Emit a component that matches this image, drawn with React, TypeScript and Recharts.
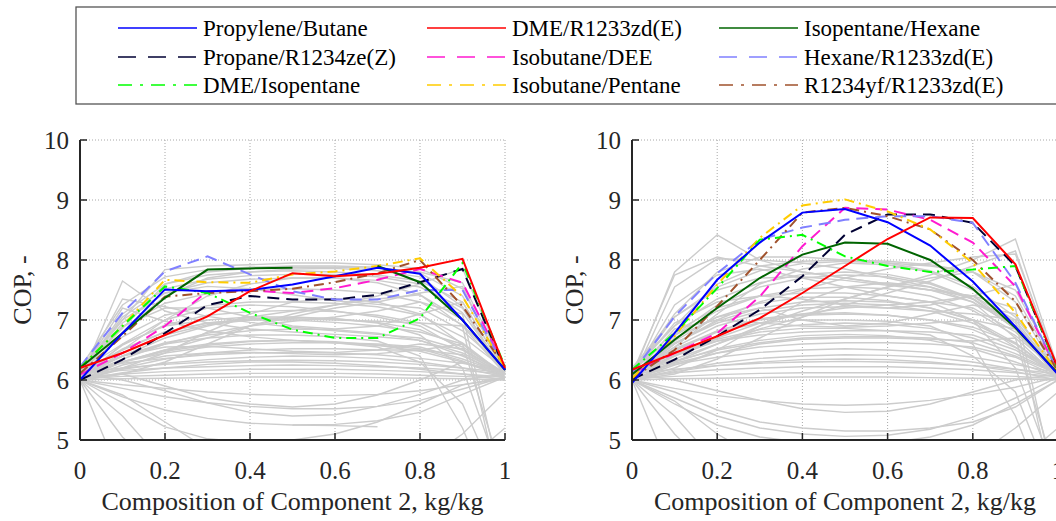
import React from "react";
import { LineChart, Line, XAxis, YAxis, CartesianGrid } from "recharts";

// composition of component 2 (kg/kg), one point every 0.1
const composition = [0, 0.1, 0.2, 0.3, 0.4, 0.5, 0.6, 0.7, 0.8, 0.9, 1];
const xTicks = [0, 0.2, 0.4, 0.6, 0.8, 1];
const yTicks = [5, 6, 7, 8, 9, 10];

// legend order (row by row, 3 columns)
const mixtures = [
  "Propylene/Butane",
  "DME/R1233zd(E)",
  "Isopentane/Hexane",
  "Propane/R1234ze(Z)",
  "Isobutane/DEE",
  "Hexane/R1233zd(E)",
  "DME/Isopentane",
  "Isobutane/Pentane",
  "R1234yf/R1233zd(E)",
];

// ---- left panel, highlighted mixtures ----
const leftPropyleneButane = [6.0, 6.78, 7.51, 7.48, 7.5, 7.59, 7.73, 7.87, 7.77, 7.0, 6.17];
const leftDmeR1233zd = [6.2, 6.45, 6.75, 7.06, 7.48, 7.78, 7.73, 7.77, 7.87, 8.02, 6.2];
const leftIsopentaneHexane = [6.2, 6.78, 7.37, 7.84, 7.86, 7.87, null, 7.9, 7.63, 7.0, 6.17];
const leftPropaneR1234ze = [6.0, 6.34, 6.78, 7.25, 7.4, 7.34, 7.34, 7.42, 7.63, 7.85, 6.17];
const leftIsobutaneDee = [6.09, 6.45, 6.9, 7.48, 7.49, 7.45, 7.53, 7.67, 7.85, 7.62, 6.22];
const leftHexaneR1233zd = [6.22, 7.12, 7.81, 8.06, 7.76, 7.48, 7.34, 7.34, 7.5, 7.5, 6.2];
const leftDmeIsopentane = [6.2, 6.9, 7.56, 7.45, 7.12, 6.84, 6.7, 6.7, 7.03, 7.95, 6.22];
const leftIsobutanePentane = [6.2, 6.9, 7.67, 7.63, 7.62, 7.76, 7.81, 7.9, 8.03, 7.39, 6.2];
const leftR1234yfR1233zd = [6.11, 6.73, 7.39, 7.45, 7.48, 7.52, 7.63, 7.78, 8.0, 7.23, 6.22];

// ---- right panel, highlighted mixtures ----
const rightPropyleneButane = [5.95, 6.78, 7.67, 8.29, 8.79, 8.85, 8.63, 8.24, 7.64, 6.89, 6.09];
const rightDmeR1233zd = [6.17, 6.45, 6.73, 7.03, 7.45, 7.9, 8.35, 8.71, 8.7, 7.93, 6.2];
const rightIsopentaneHexane = [6.09, 6.67, 7.2, 7.7, 8.09, 8.29, 8.27, 8.0, 7.52, 6.87, 6.11];
const rightPropaneR1234ze = [6.01, 6.34, 6.73, 7.17, 7.73, 8.42, 8.76, 8.76, 8.62, 7.9, 6.17];
const rightIsobutaneDee = [6.11, 6.45, 6.78, 7.39, 8.23, 8.87, 8.84, 8.67, 8.29, 7.56, 6.14];
const rightHexaneR1233zd = [6.11, 7.06, 7.78, 8.34, 8.54, 8.67, 8.73, 8.73, 8.62, 7.62, 6.14];
const rightDmeIsopentane = [6.17, 6.78, 7.53, 8.34, 8.42, 8.06, 7.9, 7.8, 7.84, 7.9, 6.17];
const rightIsobutanePentane = [6.03, 6.73, 7.59, 8.37, 8.91, 9.01, 8.81, 8.51, 7.95, 7.12, 6.11];
const rightR1234yfR1233zd = [6.03, 6.5, 7.23, 8.0, 8.79, 8.87, 8.73, 8.51, 8.0, 7.31, 6.14];

// ---- all other mixtures (grey background) ----
const leftOtherMixtures = [
  [6.0, 6.02, 6.03, 6.04, 6.05, 6.05, 6.05, 6.04, 6.03, 6.02, 6.0],
  [6.02, 6.06, 6.08, 6.1, 6.11, 6.11, 6.11, 6.1, 6.08, 6.06, 6.02],
  [6.05, 6.1, 6.14, 6.16, 6.18, 6.18, 6.18, 6.16, 6.14, 6.1, 6.05],
  [6.1, 6.16, 6.2, 6.22, 6.24, 6.25, 6.24, 6.22, 6.2, 6.16, 6.1],
  [6.12, 6.2, 6.26, 6.3, 6.32, 6.33, 6.32, 6.3, 6.26, 6.2, 6.12],
  [6.0, 6.18, 6.28, 6.34, 6.38, 6.4, 6.39, 6.36, 6.3, 6.2, 6.05],
  [6.15, 6.28, 6.36, 6.42, 6.45, 6.46, 6.45, 6.42, 6.36, 6.28, 6.15],
  [6.0, 6.3, 6.48, 6.58, 6.64, 6.66, 6.64, 6.58, 6.48, 6.3, 6.05],
  [6.08, 6.4, 6.62, 6.75, 6.82, 6.85, 6.84, 6.78, 6.66, 6.45, 6.1],
  [6.1, 6.52, 6.8, 6.95, 7.02, 7.04, 7.02, 6.96, 6.84, 6.55, 6.12],
  [6.05, 6.58, 6.92, 7.08, 7.14, 7.16, 7.14, 7.08, 6.95, 6.62, 6.08],
  [6.15, 6.72, 7.08, 7.24, 7.3, 7.3, 7.28, 7.22, 7.08, 6.72, 6.18],
  [6.2, 6.88, 7.28, 7.44, 7.5, 7.52, 7.5, 7.45, 7.3, 6.92, 6.2],
  [6.1, 7.05, 7.52, 7.68, 7.74, 7.76, 7.76, 7.72, 7.6, 7.12, 6.15],
  [6.2, 7.25, 7.72, 7.84, 7.88, 7.9, 7.9, 7.88, 7.78, 7.4, 6.2],
  [6.0, 7.65, 7.15, 6.95, 6.85, 6.8, 6.76, 6.72, 6.66, 6.4, 6.1],
  [6.05, 7.35, 7.22, 7.06, 6.96, 6.88, 6.82, 6.76, 6.7, 6.5, 6.1],
  [6.1, 7.2, 6.98, 6.82, 6.72, 6.66, 6.62, 6.58, 6.52, 6.32, 6.05],
  [6.0, 5.86, 5.72, 5.62, 5.56, 5.52, 5.52, 5.56, 5.66, 5.85, 6.05],
  [6.0, 5.72, 5.5, 5.36, 5.28, 5.25, 5.26, 5.32, 5.46, 5.76, 6.05],
  [6.0, 5.92, 5.86, 5.8, 5.76, 5.74, 5.74, 5.76, 5.82, 5.92, 6.02],
  [6.0, 5.4, 4.6, 4.2, 4.0, 3.9, 3.9, 3.95, 4.1, 4.4, 5.0],
  [6.0, 5.05, 4.4, 4.1, 3.95, 3.9, 3.92, 4.0, 4.2, 4.6, 5.2],
  [6.0, 5.75, 5.3, 4.85, 4.55, 4.4, 4.35, 4.4, 4.6, 5.1, 5.8],
  [6.1, 6.4, 6.6, 6.7, 6.75, 6.75, 6.72, 6.65, 6.4, 5.2, 3.5],
  [6.05, 6.3, 6.5, 6.6, 6.65, 6.66, 6.62, 6.55, 6.3, 5.6, 4.0],
  [6.15, 6.6, 6.9, 7.0, 7.05, 7.05, 7.02, 6.95, 6.75, 6.2, 4.2],
  [6.0, 6.2, 6.45, 6.8, 7.1, 7.3, 7.36, 7.3, 7.1, 6.6, 6.05],
  [6.1, 6.5, 7.0, 7.4, 7.6, 7.7, 7.7, 7.62, 7.42, 6.9, 6.1],
  [6.05, 6.8, 7.4, 7.7, 7.8, 7.85, 7.86, 7.82, 7.72, 7.22, 6.1],
  [6.0, 6.1, 6.3, 6.6, 6.9, 7.1, 7.25, 7.35, 7.42, 7.0, 6.1],
  [6.2, 7.0, 7.45, 7.56, 7.52, 7.42, 7.32, 7.26, 7.2, 6.82, 6.2],
  [6.1, 6.4, 6.55, 6.56, 6.52, 6.48, 6.46, 6.5, 6.6, 6.52, 6.1],
  [6.0, 6.25, 6.4, 6.45, 6.46, 6.44, 6.42, 6.44, 6.5, 6.42, 6.05],
  [6.1, 6.0, 5.82, 5.62, 5.46, 5.4, 5.42, 5.56, 5.76, 6.0, 6.1],
  [6.0, 5.62, 5.22, 5.02, 4.96, 5.0, 5.1, 5.3, 5.6, 5.92, 6.05],
  [6.1, 7.0, 7.84, 7.9, 7.92, 7.95, 7.95, 7.92, 7.86, 7.52, 6.15],
  [6.15, 6.86, 7.6, 7.8, 7.86, 7.88, 7.88, 7.86, 7.8, 7.62, 6.2],
  [6.05, 6.4, 6.7, 6.9, 7.05, 7.15, 7.25, 7.4, 7.6, 7.86, 6.2],
  [6.1, 6.3, 6.5, 6.7, 6.9, 7.05, 7.2, 7.3, 7.45, 7.56, 6.1],
  [6.05, 6.35, 6.6, 6.78, 6.9, 6.98, 7.05, 7.15, 7.3, 7.1, 4.0],
  [6.1, 6.5, 6.8, 6.95, 7.0, 7.02, 7.0, 6.98, 6.95, 6.9, 3.8],
  [6.0, 6.2, 6.35, 6.45, 6.5, 6.52, 6.52, 6.5, 6.5, 6.6, 4.3],
  [6.0, 4.3, 3.8, 3.6, 3.5, 3.5, 3.5, 3.6, 3.8, 4.2, 5.0],
  [6.1, 6.9, 7.2, 7.2, 7.05, 6.9, 6.85, 6.9, 7.1, 7.3, 6.15],
  [null, null, null, null, null, 5.25, 5.24, 5.22, null, null, null],
  [6.0, 6.6, 7.0, 7.2, 7.25, 7.22, 7.15, 7.05, 6.9, 6.5, 6.05],
  [6.05, 6.45, 6.75, 6.92, 7.0, 7.0, 6.96, 6.9, 6.8, 6.6, 6.05],
  [6.1, 6.3, 6.45, 6.55, 6.6, 6.62, 6.62, 6.6, 6.55, 6.35, 6.1],
  [6.0, 6.12, 6.2, 6.26, 6.3, 6.3, 6.28, 6.24, 6.18, 6.1, 6.0],
  [6.1, 7.1, 7.6, 7.75, 7.8, 7.82, 7.8, 7.75, 7.65, 7.3, 6.15],
  [6.05, 6.95, 7.45, 7.62, 7.68, 7.7, 7.7, 7.66, 7.55, 7.2, 6.1],
  [6.0, 6.1, 5.9, 5.7, 5.6, 5.55, 5.6, 5.75, 6.0, 6.3, 6.1],
];

const rightOtherMixtures = [
  [6.0, 6.02, 6.03, 6.04, 6.05, 6.05, 6.05, 6.04, 6.03, 6.02, 6.0],
  [6.02, 6.06, 6.09, 6.11, 6.12, 6.12, 6.12, 6.11, 6.09, 6.06, 6.02],
  [6.05, 6.12, 6.17, 6.2, 6.22, 6.22, 6.22, 6.2, 6.17, 6.12, 6.05],
  [6.1, 6.18, 6.24, 6.28, 6.3, 6.31, 6.3, 6.28, 6.24, 6.18, 6.1],
  [6.0, 6.16, 6.28, 6.36, 6.4, 6.42, 6.41, 6.38, 6.3, 6.18, 6.05],
  [6.12, 6.26, 6.38, 6.46, 6.5, 6.52, 6.5, 6.46, 6.38, 6.26, 6.12],
  [6.0, 6.3, 6.52, 6.66, 6.74, 6.76, 6.74, 6.66, 6.52, 6.3, 6.05],
  [6.08, 6.42, 6.68, 6.84, 6.92, 6.95, 6.93, 6.86, 6.7, 6.44, 6.1],
  [6.1, 6.52, 6.82, 7.0, 7.08, 7.1, 7.08, 7.0, 6.84, 6.54, 6.12],
  [6.05, 6.6, 6.98, 7.2, 7.3, 7.32, 7.3, 7.2, 7.0, 6.62, 6.08],
  [6.15, 6.74, 7.15, 7.4, 7.52, 7.55, 7.52, 7.4, 7.16, 6.74, 6.15],
  [6.2, 6.9, 7.35, 7.62, 7.76, 7.8, 7.76, 7.62, 7.36, 6.9, 6.2],
  [6.1, 7.05, 7.55, 7.82, 7.94, 7.98, 7.95, 7.82, 7.56, 7.05, 6.15],
  [6.05, 7.8, 8.42, 8.0, 7.8, 7.7, 7.6, 7.5, 7.4, 7.0, 6.1],
  [6.1, 7.75, 8.05, 7.9, 7.8, 7.7, 7.6, 7.5, 7.3, 6.9, 6.1],
  [6.0, 7.55, 8.02, 8.0, 7.95, 7.85, 7.7, 7.55, 7.35, 6.85, 6.05],
  [6.05, 7.25, 7.75, 7.85, 7.7, 7.55, 7.4, 7.3, 7.2, 6.8, 6.1],
  [6.0, 5.86, 5.74, 5.66, 5.6, 5.58, 5.6, 5.66, 5.76, 5.88, 6.05],
  [6.0, 5.7, 5.4, 5.2, 5.1, 5.06, 5.08, 5.18, 5.38, 5.7, 6.05],
  [6.0, 5.6, 5.25, 5.05, 4.96, 4.92, 4.95, 5.05, 5.25, 5.6, 6.0],
  [6.0, 5.4, 4.6, 4.2, 4.0, 3.9, 3.9, 3.95, 4.1, 4.4, 5.0],
  [6.0, 5.1, 4.4, 4.1, 3.95, 3.9, 3.92, 4.0, 4.2, 4.6, 5.2],
  [6.0, 5.65, 5.1, 4.7, 4.5, 4.4, 4.4, 4.5, 4.7, 5.2, 5.8],
  [6.1, 6.5, 6.8, 6.95, 7.0, 7.0, 6.98, 6.9, 6.6, 5.4, 3.6],
  [6.05, 6.4, 6.65, 6.8, 6.86, 6.86, 6.82, 6.75, 6.4, 5.8, 4.0],
  [6.15, 6.8, 7.2, 7.4, 7.45, 7.45, 7.4, 7.3, 7.0, 6.2, 4.3],
  [6.0, 6.2, 6.5, 6.9, 7.3, 7.55, 7.62, 7.55, 7.3, 6.7, 6.05],
  [6.1, 6.55, 7.1, 7.6, 7.85, 7.95, 7.92, 7.8, 7.5, 6.95, 6.1],
  [6.0, 6.1, 6.35, 6.7, 7.05, 7.35, 7.55, 7.7, 7.8, 7.3, 6.1],
  [6.05, 6.3, 6.6, 6.9, 7.15, 7.35, 7.55, 7.75, 8.0, 8.35, 6.2],
  [6.1, 6.35, 6.6, 6.85, 7.05, 7.25, 7.45, 7.65, 7.9, 8.15, 6.15],
  [6.2, 7.05, 7.5, 7.7, 7.72, 7.66, 7.58, 7.5, 7.4, 6.9, 6.2],
  [6.1, 6.45, 6.65, 6.75, 6.8, 6.82, 6.82, 6.8, 6.75, 6.5, 6.1],
  [6.0, 6.28, 6.45, 6.55, 6.6, 6.62, 6.62, 6.6, 6.55, 6.38, 6.05],
  [6.1, 6.0, 5.82, 5.66, 5.52, 5.46, 5.48, 5.6, 5.8, 6.0, 6.1],
  [6.1, 7.1, 7.8, 8.05, 8.05, 8.0, 7.95, 7.9, 7.8, 7.4, 6.15],
  [6.15, 6.9, 7.6, 7.9, 7.98, 8.0, 7.98, 7.92, 7.8, 7.5, 6.2],
  [6.05, 6.6, 7.0, 7.3, 7.5, 7.7, 7.85, 7.95, 8.05, 8.1, 6.2],
  [6.05, 6.4, 6.7, 6.95, 7.1, 7.2, 7.25, 7.3, 7.4, 7.2, 4.0],
  [6.1, 6.55, 6.9, 7.1, 7.2, 7.22, 7.2, 7.15, 7.1, 7.0, 3.8],
  [6.0, 6.25, 6.45, 6.6, 6.68, 6.7, 6.7, 6.68, 6.65, 6.7, 4.3],
  [6.0, 4.3, 3.8, 3.6, 3.5, 3.5, 3.5, 3.6, 3.8, 4.2, 5.0],
  [6.1, 6.95, 7.3, 7.4, 7.35, 7.25, 7.2, 7.25, 7.4, 7.6, 6.15],
  [6.0, 6.65, 7.05, 7.28, 7.38, 7.38, 7.32, 7.2, 7.0, 6.55, 6.05],
  [6.05, 6.48, 6.82, 7.02, 7.1, 7.12, 7.08, 7.0, 6.88, 6.62, 6.05],
  [6.1, 6.32, 6.5, 6.62, 6.7, 6.72, 6.72, 6.7, 6.62, 6.4, 6.1],
  [6.0, 6.14, 6.24, 6.3, 6.34, 6.35, 6.34, 6.3, 6.24, 6.14, 6.0],
  [6.0, 5.8, 5.5, 5.3, 5.2, 5.15, 5.15, 5.2, 5.3, 5.55, 6.0],
  [6.1, 6.7, 7.05, 7.2, 7.0, 6.9, 6.95, 7.1, 7.25, 7.1, 6.1],
  [6.05, 6.85, 7.0, 6.95, 6.9, 6.88, 6.9, 6.95, 7.0, 6.85, 6.05],
  [6.0, 6.75, 7.25, 7.55, 7.7, 7.75, 7.72, 7.6, 7.35, 6.85, 6.05],
  [6.1, 6.62, 6.95, 7.15, 7.25, 7.28, 7.25, 7.15, 6.95, 6.6, 6.1],
];

const leftHighlighted = [
  leftPropyleneButane, leftDmeR1233zd, leftIsopentaneHexane,
  leftPropaneR1234ze, leftIsobutaneDee, leftHexaneR1233zd,
  leftDmeIsopentane, leftIsobutanePentane, leftR1234yfR1233zd,
];
const rightHighlighted = [
  rightPropyleneButane, rightDmeR1233zd, rightIsopentaneHexane,
  rightPropaneR1234ze, rightIsobutaneDee, rightHexaneR1233zd,
  rightDmeIsopentane, rightIsobutanePentane, rightR1234yfR1233zd,
];

// line styles, same order as mixtures
const DASHED = "12 7";
const DASH_DOT = "10 5 2 5";
const STYLES = [
  { color: "#0000ff", dash: undefined, legendDash: undefined },
  { color: "#ff0000", dash: undefined, legendDash: undefined },
  { color: "#006400", dash: undefined, legendDash: undefined },
  { color: "#000033", dash: DASHED, legendDash: "18 12" },
  { color: "#ff1ad0", dash: DASHED, legendDash: "18 12" },
  { color: "#8080ff", dash: DASHED, legendDash: "18 12" },
  { color: "#00ff00", dash: DASH_DOT, legendDash: "14 8 3 8" },
  { color: "#ffcc00", dash: DASH_DOT, legendDash: "14 8 3 8" },
  { color: "#a0522d", dash: DASH_DOT, legendDash: "14 8 3 8" },
];
// draw order so the solid lines end up on top
const DRAW_ORDER = [3, 4, 5, 8, 7, 6, 2, 0, 1];

const FONT = "Liberation Serif, Tinos, Times New Roman, DejaVu Serif, serif";
const INK = "#262626";
const GREY = "#cccccc";

function buildRows(highlighted: (number | null)[][], others: (number | null)[][]) {
  return composition.map((x, i) => {
    const row: Record<string, number | null> = { x };
    highlighted.forEach((s, k) => (row[`s${k}`] = s[i]));
    others.forEach((s, k) => (row[`g${k}`] = s[i]));
    return row;
  });
}

const BOTTOM_MARGIN = 21;
const LEFT_MARGIN = 11;
const TICK_LEN = 7;

const BottomTick = (props: any) => {
  const { x, y, payload } = props;
  return (
    <g>
      <line x1={x} x2={x} y1={y - BOTTOM_MARGIN} y2={y - BOTTOM_MARGIN - TICK_LEN} stroke={INK} strokeWidth={1.5} />
      <text x={x} y={y} dy="0.71em" textAnchor="middle" fill={INK} fontSize={25} style={{ fontFamily: FONT }}>
        {String(payload.value)}
      </text>
    </g>
  );
};

const TopTick = (props: any) => {
  const { x, y } = props;
  return <line x1={x} x2={x} y1={y} y2={y + TICK_LEN} stroke={INK} strokeWidth={1.5} />;
};

const LeftTick = (props: any) => {
  const { x, y, payload } = props;
  return (
    <g>
      <line x1={x + LEFT_MARGIN} x2={x + LEFT_MARGIN + TICK_LEN} y1={y} y2={y} stroke={INK} strokeWidth={1.5} />
      <text x={x} y={y} dy="0.36em" textAnchor="end" fill={INK} fontSize={25} style={{ fontFamily: FONT }}>
        {String(payload.value)}
      </text>
    </g>
  );
};

const RightTick = (props: any) => {
  const { x, y } = props;
  return <line x1={x} x2={x - TICK_LEN} y1={y} y2={y} stroke={INK} strokeWidth={1.5} />;
};

const XTitle = (props: any) => {
  const { x, y, width } = props.viewBox;
  return (
    <text x={x + width / 2} y={y + 70} textAnchor="middle" fill={INK} fontSize={26} style={{ fontFamily: FONT }}>
      Composition of Component 2, kg/kg
    </text>
  );
};

const YTitle = (props: any) => {
  const { x, y, height } = props.viewBox;
  const cx = x + 22;
  const cy = y + height / 2;
  return (
    <text
      x={cx}
      y={cy}
      dy="0.35em"
      transform={`rotate(-90 ${cx} ${cy})`}
      textAnchor="middle"
      fill={INK}
      fontSize={26}
      style={{ fontFamily: FONT }}
    >
      COP, -
    </text>
  );
};

function CopPanel({
  left,
  width,
  rightMargin,
  highlighted,
  others,
}: {
  left: number;
  width: number;
  rightMargin: number;
  highlighted: (number | null)[][];
  others: (number | null)[][];
}) {
  const rows = buildRows(highlighted, others);
  const axisLine = { stroke: INK, strokeWidth: 2 };
  return (
    <div style={{ position: "absolute", left, top: 120 }}>
      <LineChart width={width} height={401} data={rows} margin={{ top: 20, right: rightMargin, bottom: 0, left: 0 }}>
        <CartesianGrid stroke="#a8a8a8" strokeDasharray="1 2" strokeWidth={1} />
        <XAxis
          dataKey="x"
          type="number"
          domain={[0, 1]}
          ticks={xTicks}
          interval={0}
          height={81}
          axisLine={axisLine}
          tickLine={false}
          tickSize={0}
          tickMargin={BOTTOM_MARGIN}
          tick={<BottomTick />}
          label={<XTitle />}
        />
        <XAxis
          xAxisId="top"
          orientation="top"
          dataKey="x"
          type="number"
          domain={[0, 1]}
          ticks={xTicks}
          interval={0}
          height={0}
          axisLine={axisLine}
          tickLine={false}
          tickSize={0}
          tickMargin={0}
          tick={<TopTick />}
        />
        <YAxis
          type="number"
          domain={[5, 10]}
          ticks={yTicks}
          interval={0}
          allowDataOverflow
          width={80}
          axisLine={axisLine}
          tickLine={false}
          tickSize={0}
          tickMargin={LEFT_MARGIN}
          tick={<LeftTick />}
          label={<YTitle />}
        />
        <YAxis
          yAxisId="right"
          orientation="right"
          type="number"
          domain={[5, 10]}
          ticks={yTicks}
          interval={0}
          allowDataOverflow
          width={0}
          axisLine={axisLine}
          tickLine={false}
          tickSize={0}
          tickMargin={0}
          tick={<RightTick />}
        />
        {others.map((_, k) => (
          <Line
            key={`g${k}`}
            dataKey={`g${k}`}
            type="linear"
            stroke={GREY}
            strokeWidth={1.4}
            dot={false}
            activeDot={false}
            isAnimationActive={false}
          />
        ))}
        {DRAW_ORDER.map((k) => (
          <Line
            key={`s${k}`}
            dataKey={`s${k}`}
            type="linear"
            stroke={STYLES[k].color}
            strokeDasharray={STYLES[k].dash}
            strokeWidth={2}
            dot={false}
            activeDot={false}
            isAnimationActive={false}
          />
        ))}
      </LineChart>
    </div>
  );
}

function MixtureLegend() {
  const lineStarts = [118, 427, 719];
  const rowsY = [28, 57, 85];
  return (
    <svg width={1056} height={112} style={{ position: "absolute", left: 0, top: 0 }}>
      <rect x={76} y={7} width={1000} height={97} fill="#ffffff" stroke="#555555" strokeWidth={1.3} />
      {mixtures.map((name, k) => {
        const x0 = lineStarts[k % 3];
        const y = rowsY[Math.floor(k / 3)];
        return (
          <g key={name}>
            <line
              x1={x0}
              x2={x0 + 79}
              y1={y}
              y2={y}
              stroke={STYLES[k].color}
              strokeWidth={1.6}
              strokeDasharray={STYLES[k].legendDash}
            />
            <text x={x0 + 85} y={y} dy="0.35em" fill="#000000" fontSize={23} style={{ fontFamily: FONT }}>
              {name}
            </text>
          </g>
        );
      })}
    </svg>
  );
}

export default function App() {
  return (
    <div
      style={{
        position: "absolute",
        left: 0,
        top: 0,
        width: 1056,
        height: 521,
        overflow: "hidden",
        background: "#ffffff",
        fontFamily: FONT,
      }}
    >
      <MixtureLegend />
      <CopPanel left={0} width={510} rightMargin={5} highlighted={leftHighlighted} others={leftOtherMixtures} />
      <CopPanel left={552} width={508} rightMargin={2} highlighted={rightHighlighted} others={rightOtherMixtures} />
    </div>
  );
}
